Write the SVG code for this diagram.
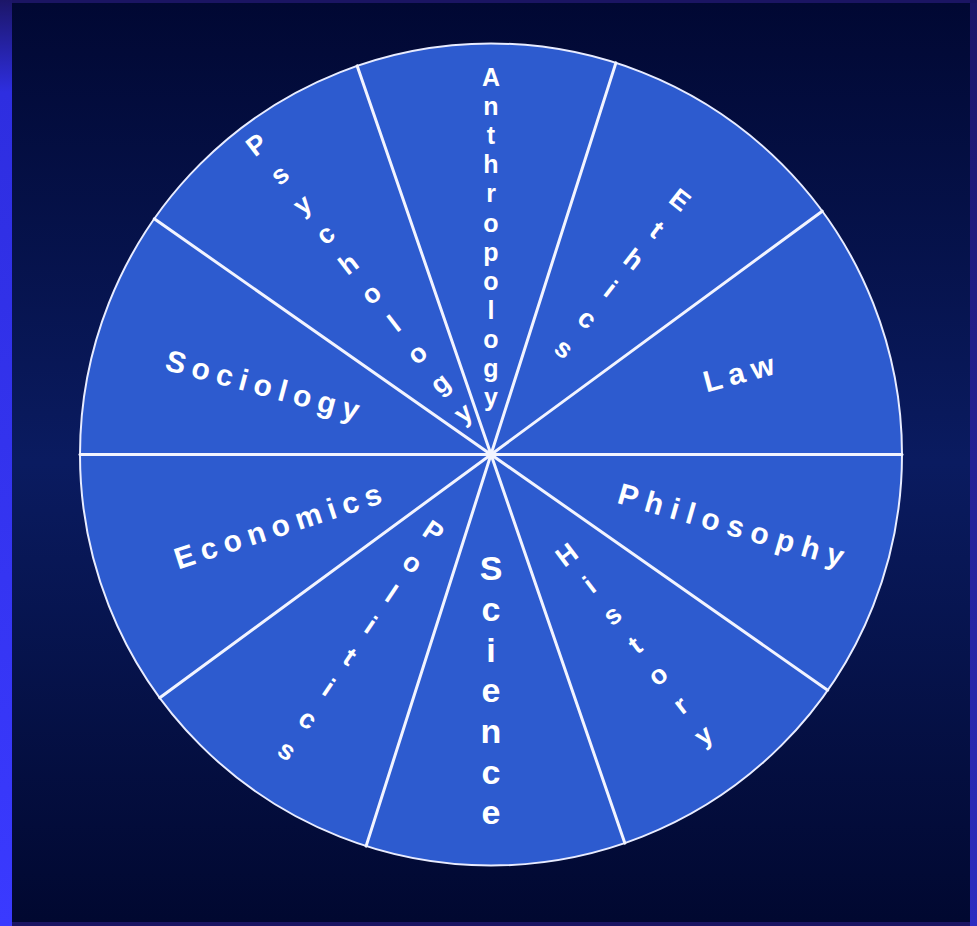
<svg xmlns="http://www.w3.org/2000/svg" width="977" height="926" viewBox="0 0 977 926">
<defs>
<linearGradient id="bg" x1="0" y1="0" x2="0" y2="1">
<stop offset="0" stop-color="#010833"/>
<stop offset="0.5" stop-color="#0a1b60"/>
<stop offset="1" stop-color="#010830"/>
</linearGradient>
<linearGradient id="leftstrip" x1="0" y1="0" x2="0" y2="1">
<stop offset="0" stop-color="#1c1668"/>
<stop offset="0.1" stop-color="#2e2ee0"/>
<stop offset="1" stop-color="#3a3aff"/>
</linearGradient>
<linearGradient id="rightstrip" x1="0" y1="0" x2="0" y2="1">
<stop offset="0" stop-color="#1c1668"/>
<stop offset="1" stop-color="#2c2cc0"/>
</linearGradient>
<style>
.lbl { font-family: "Liberation Sans", Arial, sans-serif; font-weight: bold; fill: #ffffff; text-anchor: middle; dominant-baseline: central; }
.word { font-size: 30px; letter-spacing: 7px; }
.stack { font-size: 25px; }
.diag { font-size: 27px; }
.big { font-size: 34px; }
.spoke { stroke: #f2f4ff; stroke-width: 3; stroke-linecap: round; }
</style>
</defs>
<rect x="0" y="0" width="977" height="926" fill="#1b1563"/>
<rect x="0" y="0" width="12" height="926" fill="url(#leftstrip)"/>
<rect x="970" y="3" width="7" height="923" fill="url(#rightstrip)"/>
<rect x="12" y="3" width="958" height="919" fill="url(#bg)"/>

<g id="wheel">
<circle cx="491" cy="454.5" r="411" fill="#2d5bcf" stroke="#e8ecff" stroke-width="2"/>
</g>

<g id="connectors">
<line class="spoke" x1="80" y1="454.5" x2="902" y2="454.5"/>
<line class="spoke" x1="822.2" y1="211.2" x2="159.8" y2="697.8"/>
<line class="spoke" x1="615.9" y1="62.9" x2="366.1" y2="846.1"/>
<line class="spoke" x1="357.2" y1="65.9" x2="624.8" y2="843.1"/>
<line class="spoke" x1="154.3" y1="218.8" x2="827.7" y2="690.2"/>
</g>

<g id="anthropology">
<text class="lbl stack"><tspan x="491" y="77">A</tspan><tspan x="491" y="106">n</tspan><tspan x="491" y="135">t</tspan><tspan x="491" y="164">h</tspan><tspan x="491" y="193">r</tspan><tspan x="491" y="222.5">o</tspan><tspan x="491" y="251.6">p</tspan><tspan x="491" y="280.7">o</tspan><tspan x="491" y="309.8">l</tspan><tspan x="491" y="339">o</tspan><tspan x="491" y="368">g</tspan><tspan x="491" y="397">y</tspan></text>
</g>

<g id="ethics" transform="translate(680,200) rotate(38)">
<text class="lbl diag"><tspan x="0" y="0">E</tspan><tspan x="0" y="37.7">t</tspan><tspan x="0" y="75.4">h</tspan><tspan x="0" y="113.1">i</tspan><tspan x="0" y="150.8">c</tspan><tspan x="0" y="188.5">s</tspan></text>
</g>

<g id="law">
<text class="lbl word" transform="translate(742,372) rotate(-15)">Law</text>
</g>

<g id="philosophy">
<text class="lbl word" style="letter-spacing:8px" transform="translate(735,526) rotate(16)">Philosophy</text>
</g>

<g id="history" transform="translate(566.7,555) rotate(-37.2)">
<text class="lbl diag"><tspan x="0" y="0">H</tspan><tspan x="0" y="37.7">i</tspan><tspan x="0" y="75.4">s</tspan><tspan x="0" y="113.1">t</tspan><tspan x="0" y="150.8">o</tspan><tspan x="0" y="188.5">r</tspan><tspan x="0" y="226.2">y</tspan></text>
</g>

<g id="science">
<text class="lbl big"><tspan x="491" y="568">S</tspan><tspan x="491" y="609">c</tspan><tspan x="491" y="649.5">i</tspan><tspan x="491" y="690">e</tspan><tspan x="491" y="731">n</tspan><tspan x="491" y="771.5">c</tspan><tspan x="491" y="812">e</tspan></text>
</g>

<g id="politics" transform="translate(433.3,531.7) rotate(33.8)">
<text class="lbl diag"><tspan x="0" y="0">P</tspan><tspan x="0" y="37.6">o</tspan><tspan x="0" y="75.2">l</tspan><tspan x="0" y="112.8">i</tspan><tspan x="0" y="150.4">t</tspan><tspan x="0" y="188">i</tspan><tspan x="0" y="225.6">c</tspan><tspan x="0" y="263.2">s</tspan></text>
</g>

<g id="economics">
<text class="lbl word" transform="translate(281,525) rotate(-18)">Economics</text>
</g>

<g id="sociology">
<text class="lbl word" transform="translate(266,386) rotate(15)">Sociology</text>
</g>

<g id="psychology" transform="translate(256.7,145) rotate(-37.6)">
<text class="lbl diag"><tspan x="0" y="0">P</tspan><tspan x="0" y="37.6">s</tspan><tspan x="0" y="75.2">y</tspan><tspan x="0" y="112.8">c</tspan><tspan x="0" y="150.4">h</tspan><tspan x="0" y="188">o</tspan><tspan x="0" y="225.6">l</tspan><tspan x="0" y="263.2">o</tspan><tspan x="0" y="300.8">g</tspan><tspan x="0" y="338.4">y</tspan></text>
</g>
</svg>
